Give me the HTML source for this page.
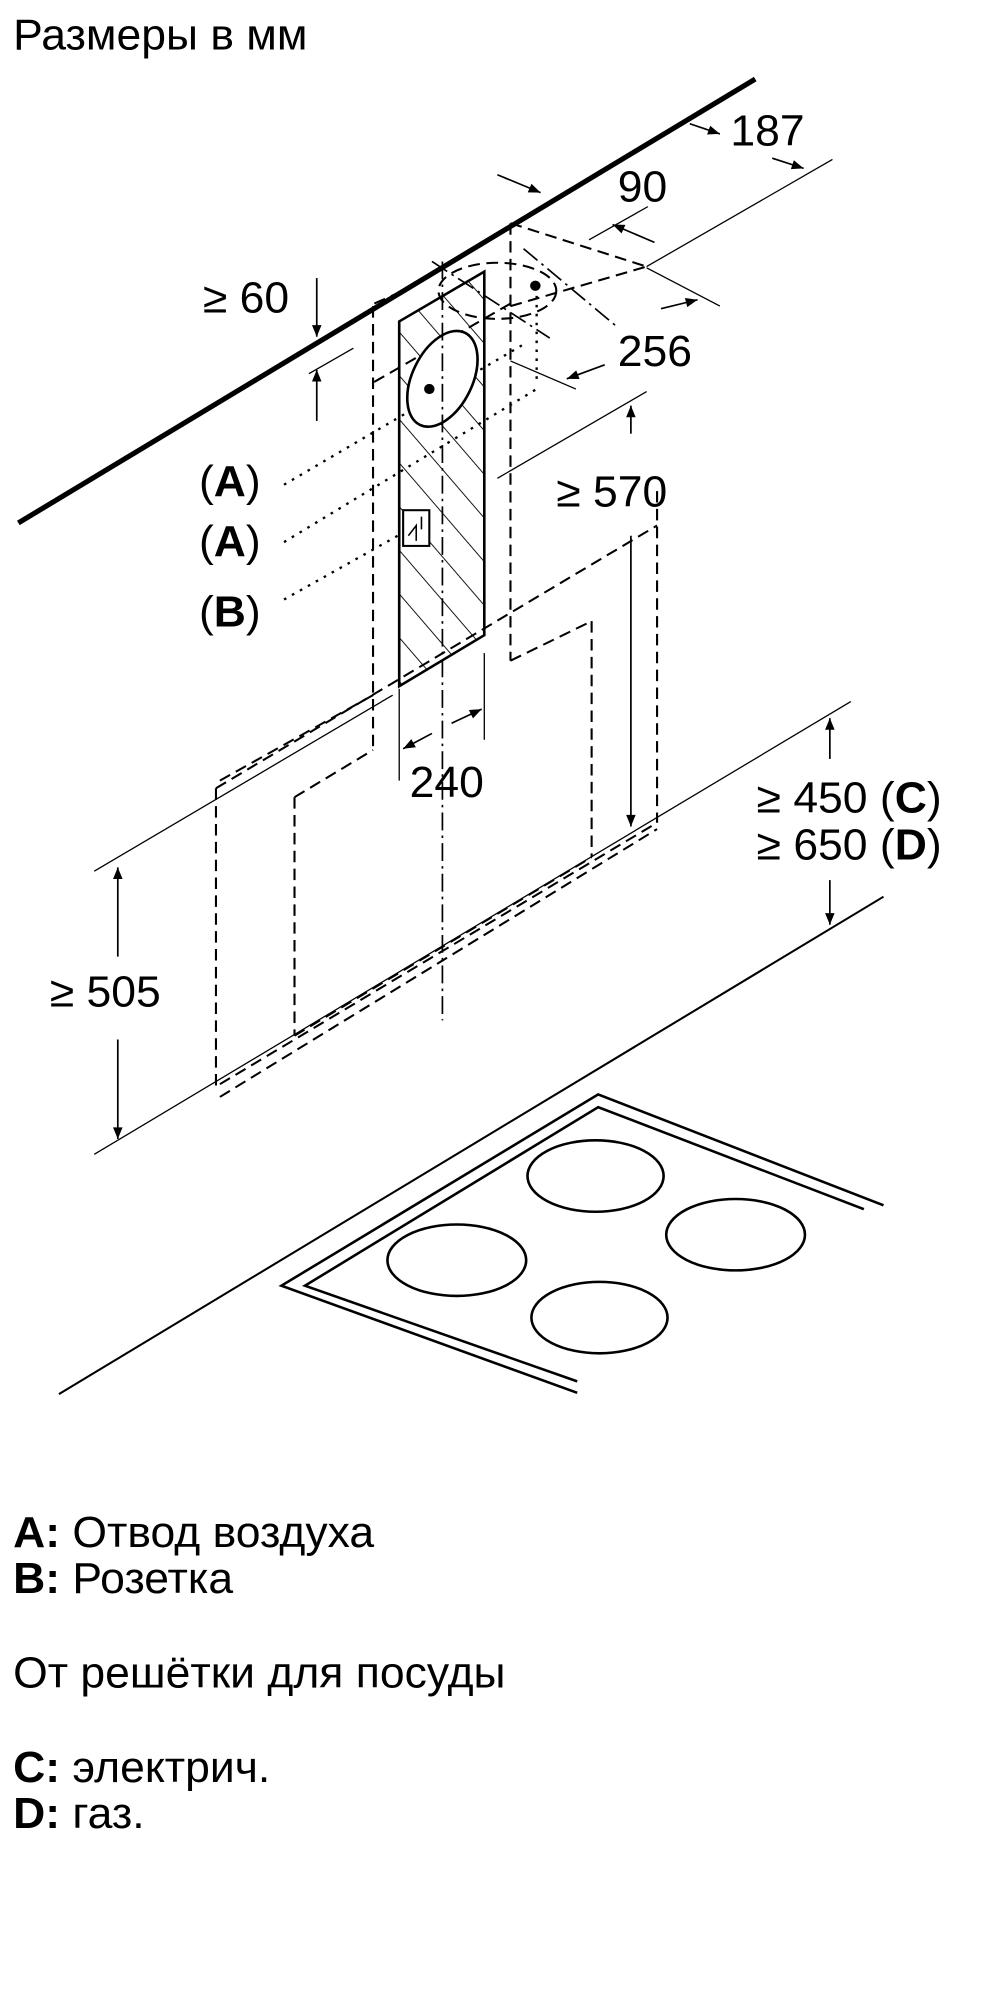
<!DOCTYPE html>
<html><head><meta charset="utf-8"><style>
html,body{margin:0;padding:0;background:#fff;}
svg{display:block;}
text{font-family:"Liberation Sans",sans-serif;fill:#000;}
</style></head><body>
<svg width="1000" height="2000" viewBox="0 0 764 1568" preserveAspectRatio="none" xmlns="http://www.w3.org/2000/svg">
<defs>
<marker id="ar" viewBox="0 0 10 10" refX="10" refY="5" markerWidth="9" markerHeight="7" orient="auto-start-reverse"><path d="M0,1 L10,5 L0,9 z" fill="#000"/></marker>
<pattern id="hatch" patternUnits="userSpaceOnUse" width="22" height="22" patternTransform="rotate(-40)"><line x1="0" y1="0" x2="0" y2="22" stroke="#000" stroke-width="1.4"/></pattern>
</defs>
<g fill="none" stroke="#000">
<line x1="14" y1="410" x2="577" y2="62" stroke-width="4"/>
<line x1="494" y1="209" x2="636" y2="125" stroke-width="1"/>
<line x1="527" y1="97" x2="550" y2="105" stroke-width="1.3" marker-end="url(#ar)"/>
<line x1="590" y1="124" x2="614" y2="132" stroke-width="1.3" marker-end="url(#ar)"/>
<line x1="380" y1="137" x2="413" y2="151" stroke-width="1.3" marker-end="url(#ar)"/>
<line x1="500" y1="190" x2="468" y2="176" stroke-width="1.3" marker-end="url(#ar)"/>
<line x1="450" y1="188" x2="495" y2="162" stroke-width="1"/>
<line x1="494" y1="210" x2="550" y2="240" stroke-width="1"/>
<line x1="390" y1="283" x2="440" y2="305" stroke-width="1"/>
<line x1="505" y1="242" x2="533" y2="235" stroke-width="1.3" marker-end="url(#ar)"/>
<line x1="462" y1="286" x2="433" y2="297" stroke-width="1.3" marker-end="url(#ar)"/>
<line x1="242" y1="218" x2="242" y2="264" stroke-width="1.3" marker-end="url(#ar)"/>
<line x1="242" y1="330" x2="242" y2="290" stroke-width="1.3" marker-end="url(#ar)"/>
<line x1="236" y1="293" x2="270" y2="273" stroke-width="1"/>
<line x1="380" y1="375" x2="494" y2="307" stroke-width="1"/>
<line x1="482" y1="340" x2="482" y2="318" stroke-width="1.3" marker-end="url(#ar)"/>
<line x1="482" y1="420" x2="482" y2="648" stroke-width="1.3" marker-end="url(#ar)"/>
<g stroke-dasharray="9,5" stroke-width="1.6">
<line x1="285" y1="240" x2="285" y2="585"/>
<line x1="390" y1="175" x2="390" y2="518"/>
<line x1="390" y1="175" x2="494" y2="209"/>
<line x1="286" y1="238" x2="310" y2="227"/>
<line x1="390" y1="240" x2="494" y2="209"/>
<line x1="390" y1="518" x2="452" y2="487"/>
<line x1="452" y1="487" x2="452" y2="672"/>
<line x1="502" y1="385" x2="502" y2="645"/>
<line x1="390" y1="238" x2="285" y2="300"/>
<line x1="165" y1="618" x2="502" y2="412"/>
<line x1="165" y1="618" x2="165" y2="855"/>
<line x1="168" y1="612" x2="285" y2="545"/>
<line x1="225" y1="625" x2="285" y2="588"/>
<line x1="225" y1="625" x2="225" y2="812"/>
<line x1="225" y1="812" x2="452" y2="672"/>
<line x1="168" y1="860" x2="502" y2="650"/>
<line x1="168" y1="850" x2="502" y2="645"/>
<ellipse cx="380" cy="228" rx="45" ry="22"/>
</g>
<g stroke-dasharray="2,5" stroke-width="1.8">
<line x1="217" y1="380" x2="400" y2="270"/>
<line x1="217" y1="425" x2="410" y2="305"/>
<line x1="217" y1="470" x2="330" y2="405"/>
<line x1="410" y1="225" x2="410" y2="300"/>
</g>
<polygon points="305,252 370,213 370,498 305,538" fill="url(#hatch)" stroke-width="2"/>
<ellipse cx="338" cy="297" rx="23" ry="40" transform="rotate(25 338 297)" fill="#fff" stroke-width="2"/>
<rect x="308" y="400" width="20" height="28" fill="#fff" stroke-width="1.6"/>
<path d="M312,420 l6,-8 l0,12 M322,405 l0,10" stroke-width="1.2"/>
<line x1="338" y1="205" x2="338" y2="800" stroke-dasharray="14,4,2,4" stroke-width="1.3"/>
<line x1="330" y1="205" x2="420" y2="265" stroke-dasharray="14,4,2,4" stroke-width="1.3"/>
<line x1="400" y1="195" x2="470" y2="255" stroke-dasharray="14,4,2,4" stroke-width="1.3"/>
<line x1="305" y1="540" x2="305" y2="612" stroke-width="1"/>
<line x1="370" y1="512" x2="370" y2="580" stroke-width="1"/>
<line x1="330" y1="575" x2="308" y2="587" stroke-width="1.3" marker-end="url(#ar)"/>
<line x1="345" y1="567" x2="368" y2="556" stroke-width="1.3" marker-end="url(#ar)"/>
<line x1="72" y1="683" x2="300" y2="545" stroke-width="1"/>
<line x1="72" y1="905" x2="650" y2="550" stroke-width="1"/>
<line x1="90" y1="750" x2="90" y2="680" stroke-width="1.3" marker-end="url(#ar)"/>
<line x1="90" y1="815" x2="90" y2="893" stroke-width="1.3" marker-end="url(#ar)"/>
<line x1="634" y1="595" x2="634" y2="563" stroke-width="1.3" marker-end="url(#ar)"/>
<line x1="634" y1="690" x2="634" y2="725" stroke-width="1.3" marker-end="url(#ar)"/>
<line x1="45" y1="1093" x2="675" y2="703" stroke-width="1.6"/>
<polyline points="441,1092 215,1008 457,858 675,945" stroke-width="2"/>
<polyline points="441,1083 233,1008 457,868 660,948" stroke-width="2"/>
<ellipse cx="455" cy="922" rx="52" ry="28" stroke-width="2"/>
<ellipse cx="349" cy="988" rx="53" ry="28" stroke-width="2"/>
<ellipse cx="562" cy="968" rx="53" ry="28" stroke-width="2"/>
<ellipse cx="458" cy="1033" rx="52" ry="28" stroke-width="2"/>
</g>
<circle cx="328" cy="305" r="4"/>
<circle cx="409" cy="224" r="4"/>
<g font-size="34">
<text x="10" y="39">Размеры в мм</text>
<text x="558" y="114">187</text>
<text x="472" y="158">90</text>
<text x="472" y="287">256</text>
<text x="155" y="245">≥ 60</text>
<text x="425" y="397">≥ 570</text>
<text x="152" y="389">(<tspan font-weight="bold">A</tspan>)</text>
<text x="152" y="436">(<tspan font-weight="bold">A</tspan>)</text>
<text x="152" y="491">(<tspan font-weight="bold">B</tspan>)</text>
<text x="313" y="625">240</text>
<text x="578" y="637">≥ 450 (<tspan font-weight="bold">C</tspan>)</text>
<text x="578" y="674">≥ 650 (<tspan font-weight="bold">D</tspan>)</text>
<text x="38" y="789">≥ 505</text>
<text x="10" y="1213"><tspan font-weight="bold">A:</tspan> Отвод воздуха</text>
<text x="10" y="1249"><tspan font-weight="bold">B:</tspan> Розетка</text>
<text x="10" y="1323">От решётки для посуды</text>
<text x="10" y="1397"><tspan font-weight="bold">C:</tspan> электрич.</text>
<text x="10" y="1433"><tspan font-weight="bold">D:</tspan> газ.</text>
</g>
</svg>
</body></html>
